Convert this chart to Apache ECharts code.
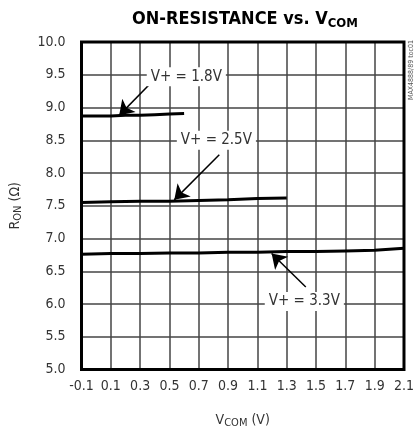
<!DOCTYPE html>
<html>
<head>
<meta charset="utf-8">
<script src="https://cdn.jsdelivr.net/npm/echarts@6/dist/echarts.min.js"></script>
<style>
html,body{margin:0;padding:0;background:#fff;}
#c{width:417px;height:437px;}
</style>
</head>
<body>
<div id="c"></div>
<script>
// ---- data ----
const xTickMin = -0.1, xTickMax = 2.1, xTickStep = 0.2;
const yTickMin = 5.0, yTickMax = 10.0, yTickStep = 0.5;

const x18 = [-0.1, 0.0, 0.1, 0.2, 0.3, 0.4, 0.5, 0.6];
const y18 = [8.87, 8.87, 8.87, 8.88, 8.88, 8.89, 8.90, 8.91];

const x25 = [-0.1, 0.1, 0.3, 0.5, 0.7, 0.9, 1.1, 1.3];
const y25 = [7.55, 7.56, 7.57, 7.57, 7.58, 7.59, 7.61, 7.62];

const x33 = [-0.1, 0.1, 0.3, 0.5, 0.7, 0.9, 1.1, 1.3, 1.5, 1.7, 1.9, 2.1];
const y33 = [6.76, 6.77, 6.77, 6.78, 6.78, 6.79, 6.79, 6.80, 6.80, 6.81, 6.82, 6.85];

// annotations (data coordinates)
const labelTexts = ['V+ = 1.8V', 'V+ = 2.5V', 'V+ = 3.3V'];
const labelPos = [[0.615, 9.47], [0.82, 8.50], [1.42, 6.04]];
const arrowFrom = [[0.38, 9.39], [0.84, 8.28], [1.43, 6.26]];
const arrowTo = [[0.157, 8.88], [0.533, 7.59], [1.197, 6.77]];

const FONT = '"Liberation Sans Narrow", "DejaVu Sans Condensed", "Arial Narrow", sans-serif';

function zip(xs, ys) { return xs.map((x, i) => [x, ys[i]]); }

const chart = echarts.init(document.getElementById('c'), null, {renderer: 'canvas'});

const lineSeries = (xs, ys) => ({
  type: 'line', data: zip(xs, ys), showSymbol: false, symbol: 'none',
  lineStyle: {color: '#000', width: 3}, silent: true, z: 3
});

chart.setOption({
  animation: false,
  backgroundColor: '#fff',
  title: {
    text: 'ON-RESISTANCE vs. V{s|COM}',
    left: 127, top: 4,
    textStyle: {
      fontFamily: FONT, fontWeight: 'bold', fontSize: 18, color: '#000',
      rich: {s: {fontFamily: FONT, fontWeight: 'bold', fontSize: 13, color: '#000', verticalAlign: 'bottom', padding: [8, 0, 0, 0]}}
    }
  },
  grid: {left: 78.5, right: 11, top: 42, bottom: 67.5, show: true, borderColor: '#000', borderWidth: 3, backgroundColor: 'transparent', z: 4},
  xAxis: {
    type: 'value', min: xTickMin, max: xTickMax, interval: xTickStep,
    axisLine: {show: false}, axisTick: {show: false},
    splitLine: {show: true, lineStyle: {color: '#444', width: 1.5}},
    axisLabel: {formatter: v => v.toFixed(1), fontFamily: FONT, fontSize: 14, color: '#333', margin: 10},
    name: 'V{s|COM} (V)', nameLocation: 'middle', nameGap: 42,
    nameTextStyle: {fontFamily: FONT, fontSize: 14, color: '#333',
      rich: {s: {fontFamily: FONT, fontSize: 11, color: '#333', padding: [6, 0, 0, 0]}}}
  },
  yAxis: {
    type: 'value', min: yTickMin, max: yTickMax, interval: yTickStep,
    axisLine: {show: false}, axisTick: {show: false},
    splitLine: {show: true, lineStyle: {color: '#444', width: 1.5}},
    axisLabel: {formatter: v => v.toFixed(1), fontFamily: FONT, fontSize: 14, color: '#333', margin: 16},
    name: 'R{s|ON} (Ω)', nameLocation: 'middle', nameGap: 58, nameRotate: 90,
    nameTextStyle: {fontFamily: FONT, fontSize: 14, color: '#333',
      rich: {s: {fontFamily: FONT, fontSize: 11, color: '#333', padding: [6, 0, 0, 0]}}}
  },
  series: [
    lineSeries(x18, y18),
    lineSeries(x25, y25),
    lineSeries(x33, y33),
    {
      type: 'lines', coordinateSystem: 'cartesian2d', silent: true, z: 5,
      symbol: ['none', 'arrow'], symbolSize: [9, 14],
      lineStyle: {color: '#000', width: 1.5, opacity: 1},
      data: arrowFrom.map((f, i) => ({coords: [f, arrowTo[i]]}))
    }
  ]
});

// annotation labels placed through the chart's own scales
const labelGraphics = labelPos.map((p, i) => {
  const px = chart.convertToPixel({gridIndex: 0}, p);
  return {
    type: 'text', x: px[0], y: px[1], z: 100,
    style: {
      text: labelTexts[i], fontFamily: FONT, fontSize: 15, fill: '#333',
      align: 'center', verticalAlign: 'middle',
      backgroundColor: '#fff', padding: [2, 4]
    }
  };
});
labelGraphics.push({
  type: 'text', x: 415, y: 40, rotation: Math.PI / 2, z: 100,
  style: {text: 'MAX4888/89 toc01', fontFamily: FONT, fontSize: 7, fill: '#555', align: 'right', verticalAlign: 'bottom'}
});
chart.setOption({graphic: labelGraphics});
</script>
</body>
</html>
